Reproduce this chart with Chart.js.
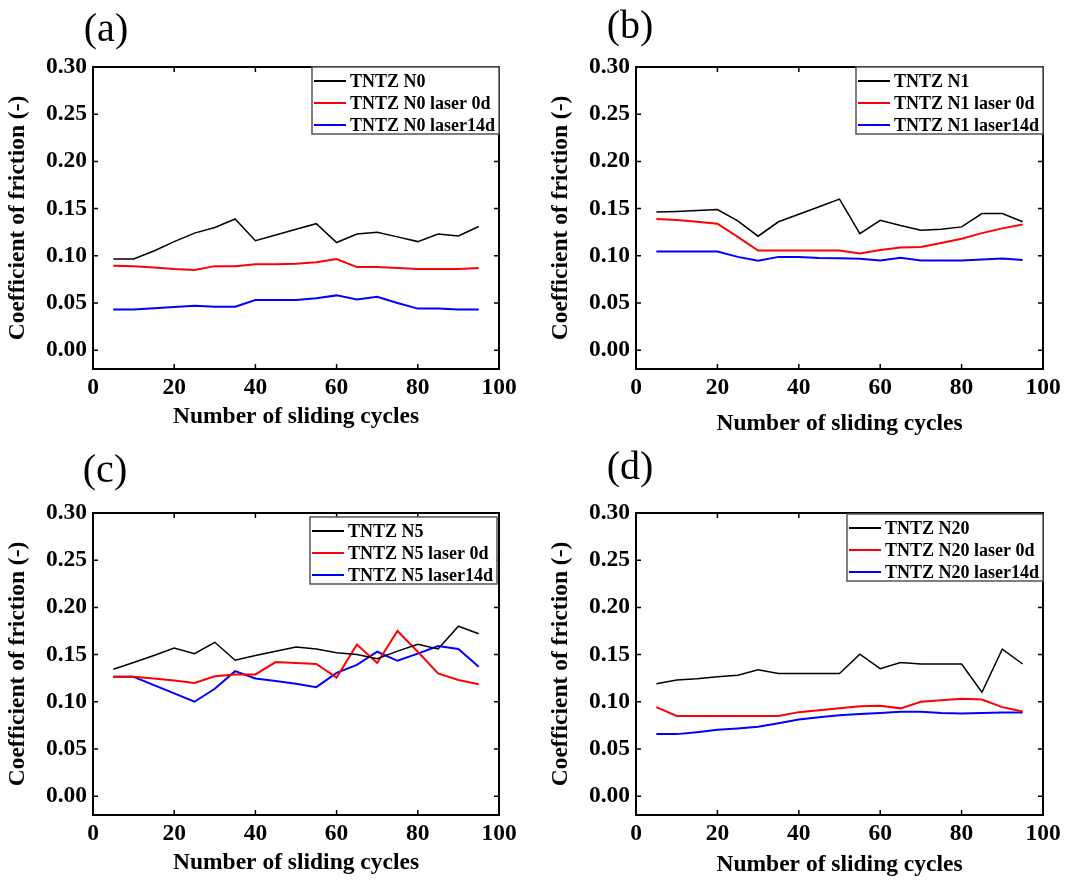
<!DOCTYPE html>
<html>
<head>
<meta charset="utf-8">
<script src="https://cdn.jsdelivr.net/npm/chart.js@4/dist/chart.umd.min.js"></script>
<style>
  body { margin: 0; background: #fff; }
  #wrap { position: relative; width: 1070px; height: 883px; }
  .panel { position: absolute; }
</style>
</head>
<body>
<div id="wrap"></div>
<script>
// sliding cycles (x) and tick values
const cycles = [5, 10, 15, 20, 25, 30, 35, 40, 45, 50, 55, 60, 65, 70, 75, 80, 85, 90, 95];
const xTicks = [0, 20, 40, 60, 80, 100];
const yTicks = [0, 0.05, 0.10, 0.15, 0.20, 0.25, 0.30];

// (a) TNTZ N0
const n0Base     = [0.0965, 0.0965, 0.105, 0.115, 0.124, 0.130, 0.139, 0.116, 0.122, 0.128, 0.134, 0.114, 0.123, 0.125, 0.120, 0.115, 0.123, 0.121, 0.131];
const n0Laser0d  = [0.0894, 0.089, 0.0876, 0.086, 0.085, 0.089, 0.089, 0.091, 0.091, 0.0915, 0.093, 0.0965, 0.088, 0.088, 0.087, 0.086, 0.086, 0.086, 0.087];
const n0Laser14d = [0.043, 0.043, 0.0445, 0.0456, 0.047, 0.046, 0.046, 0.053, 0.053, 0.053, 0.055, 0.058, 0.0537, 0.0565, 0.050, 0.044, 0.044, 0.043, 0.043];

// (b) TNTZ N1
const n1Base     = [0.1464, 0.147, 0.148, 0.149, 0.137, 0.1207, 0.136, 0.144, 0.152, 0.160, 0.1235, 0.1376, 0.132, 0.127, 0.128, 0.1306, 0.1447, 0.1447, 0.136];
const n1Laser0d  = [0.139, 0.138, 0.136, 0.134, 0.120, 0.1055, 0.1055, 0.1055, 0.1055, 0.1055, 0.1023, 0.106, 0.1087, 0.1094, 0.1136, 0.118, 0.124, 0.129, 0.133];
const n1Laser14d = [0.1044, 0.1044, 0.1044, 0.1044, 0.0988, 0.0946, 0.0988, 0.0988, 0.0977, 0.0974, 0.0967, 0.095, 0.098, 0.095, 0.095, 0.095, 0.096, 0.097, 0.0956];

// (c) TNTZ N5
const n5Base     = [0.1345, 0.1416, 0.149, 0.157, 0.151, 0.163, 0.144, 0.149, 0.1536, 0.158, 0.156, 0.152, 0.150, 0.1455, 0.1536, 0.161, 0.156, 0.180, 0.172];
const n5Laser0d  = [0.1264, 0.1264, 0.1246, 0.1225, 0.120, 0.127, 0.129, 0.129, 0.142, 0.141, 0.140, 0.1257, 0.1607, 0.141, 0.175, 0.153, 0.130, 0.123, 0.1186];
const n5Laser14d = [0.1264, 0.1264, 0.1176, 0.1088, 0.100, 0.1137, 0.1324, 0.1246, 0.122, 0.119, 0.1155, 0.1306, 0.139, 0.153, 0.1434, 0.151, 0.159, 0.156, 0.137];

// (d) TNTZ N20
const n20Base     = [0.119, 0.123, 0.1243, 0.1264, 0.128, 0.134, 0.130, 0.130, 0.130, 0.130, 0.1504, 0.135, 0.1416, 0.140, 0.140, 0.140, 0.110, 0.1557, 0.140];
const n20Laser0d  = [0.0943, 0.085, 0.085, 0.085, 0.085, 0.085, 0.085, 0.089, 0.091, 0.093, 0.0953, 0.0957, 0.093, 0.100, 0.1017, 0.1031, 0.1024, 0.0943, 0.0897];
const n20Laser14d = [0.0657, 0.0657, 0.0678, 0.0703, 0.0717, 0.0734, 0.0773, 0.0812, 0.0837, 0.0858, 0.0869, 0.088, 0.0893, 0.0893, 0.088, 0.0876, 0.088, 0.0886, 0.0886];

const xTitle = 'Number of sliding cycles';
const yTitle = 'Coefficient of friction (-)';
const FONT = '"Liberation Serif", "Times New Roman", serif';

// panel placement on the page (canvas rect, chart area, label spot)
const panels = [
  { tag: '(a)', name: 'TNTZ N0', series: [n0Base, n0Laser0d, n0Laser14d],
    canvas: [0, 0, 535, 441], area: [93, 67, 499, 369], titleGap: 48, tagPos: [106, 30], legendInset: [0, 0] },
  { tag: '(b)', name: 'TNTZ N1', series: [n1Base, n1Laser0d, n1Laser14d],
    canvas: [535, 0, 535, 441], area: [636, 67, 1043, 369], titleGap: 55, tagPos: [630, 27], legendInset: [0, 0] },
  { tag: '(c)', name: 'TNTZ N5', series: [n5Base, n5Laser0d, n5Laser14d],
    canvas: [0, 441, 535, 442], area: [93, 513, 499, 815], titleGap: 48, tagPos: [105, 471], legendInset: [2, 4] },
  { tag: '(d)', name: 'TNTZ N20', series: [n20Base, n20Laser0d, n20Laser14d],
    canvas: [535, 441, 535, 442], area: [636, 513, 1043, 815], titleGap: 50, tagPos: [630, 468], legendInset: [0, 1] }
];

const lineColors = ['#000000', '#ff0000', '#0000ff'];
const lineWidths = [1.5, 2, 2];

// frame, inward ticks, legend box and panel tag
const decorPlugin = {
  id: 'decor',
  afterDraw(chart) {
    const ctx = chart.ctx;
    const a = chart.chartArea;
    const p = chart.options.plugins.decor;
    const xs = chart.scales.x, ys = chart.scales.y;
    ctx.save();
    ctx.strokeStyle = '#000';
    ctx.lineWidth = 1.5;
    ctx.beginPath();
    xTicks.forEach(v => {
      const px = xs.getPixelForValue(v);
      ctx.moveTo(px, a.bottom); ctx.lineTo(px, a.bottom - 5);
      ctx.moveTo(px, a.top); ctx.lineTo(px, a.top + 5);
    });
    yTicks.forEach(v => {
      const py = ys.getPixelForValue(v);
      ctx.moveTo(a.left, py); ctx.lineTo(a.left + 5, py);
      ctx.moveTo(a.right, py); ctx.lineTo(a.right - 5, py);
    });
    ctx.stroke();
    ctx.lineWidth = 2;
    ctx.strokeRect(a.left, a.top, a.right - a.left, a.bottom - a.top);

    // legend
    ctx.font = 'bold 18px ' + FONT;
    const labels = chart.data.datasets.map(d => d.label);
    const tw = Math.max(...labels.map(l => ctx.measureText(l).width));
    const w = tw + 42, h = 67;
    const bx = a.right - p.inset[0] - w, by = a.top + p.inset[1];
    ctx.fillStyle = '#fff';
    ctx.fillRect(bx, by, w, h);
    ctx.strokeStyle = '#555';
    ctx.lineWidth = 1.5;
    ctx.strokeRect(bx, by, w, h);
    ctx.textBaseline = 'middle';
    ctx.textAlign = 'left';
    chart.data.datasets.forEach((d, i) => {
      const ry = by + 14 + i * 22;
      ctx.strokeStyle = d.borderColor;
      ctx.lineWidth = 2;
      ctx.beginPath();
      ctx.moveTo(bx + 2, ry); ctx.lineTo(bx + 34, ry);
      ctx.stroke();
      ctx.fillStyle = '#000';
      ctx.fillText(d.label, bx + 38, ry + 1);
    });

    // panel tag
    ctx.font = '40px ' + FONT;
    ctx.textAlign = 'center';
    ctx.fillStyle = '#000';
    ctx.fillText(p.tag, p.tagPos[0], p.tagPos[1]);
    ctx.restore();
  }
};

const wrap = document.getElementById('wrap');

panels.forEach(pn => {
  const [cx, cy, cw, ch] = pn.canvas;
  const [al, at, ar, ab] = pn.area;
  const div = document.createElement('div');
  div.className = 'panel';
  div.style.left = cx + 'px';
  div.style.top = cy + 'px';
  const canvas = document.createElement('canvas');
  canvas.width = cw;
  canvas.height = ch;
  div.appendChild(canvas);
  wrap.appendChild(div);

  const yAxisWidth = 93;
  const xAxisHeight = pn.titleGap + 14;
  const padLeft = al - cx - yAxisWidth;
  const padRight = cx + cw - ar;
  const padTop = at - cy;
  const padBottom = cy + ch - ab - xAxisHeight;
  const labelNames = [pn.name, pn.name + ' laser 0d', pn.name + ' laser14d'];

  new Chart(canvas, {
    type: 'line',
    data: {
      datasets: pn.series.map((vals, i) => ({
        label: labelNames[i],
        data: cycles.map((c, k) => ({ x: c, y: vals[k] })),
        borderColor: lineColors[i],
        backgroundColor: lineColors[i],
        borderWidth: lineWidths[i],
        pointRadius: 0,
        tension: 0,
        fill: false
      }))
    },
    options: {
      responsive: false,
      animation: false,
      layout: { padding: { left: padLeft, right: padRight, top: padTop, bottom: padBottom } },
      plugins: {
        legend: { display: false },
        tooltip: { enabled: false },
        decor: { tag: pn.tag, tagPos: [pn.tagPos[0] - cx, pn.tagPos[1] - cy], inset: pn.legendInset }
      },
      scales: {
        x: {
          type: 'linear',
          min: 0,
          max: 100,
          afterBuildTicks: s => { s.ticks = xTicks.map(v => ({ value: v })); },
          afterFit: s => { s.height = xAxisHeight; s.paddingLeft = 0; s.paddingRight = 0; },
          grid: { display: false, drawTicks: false },
          border: { display: false },
          ticks: { color: '#000', padding: 5, maxRotation: 0, font: { family: FONT, size: 23.5, weight: 'bold' } },
          title: { display: true, text: xTitle, color: '#000', padding: { top: 0, bottom: 0 },
                   font: { family: FONT, size: 23.5, weight: 'bold', lineHeight: 1.2 } }
        },
        y: {
          type: 'linear',
          min: -0.02,
          max: 0.30,
          afterBuildTicks: s => { s.ticks = yTicks.map(v => ({ value: v })); },
          afterFit: s => { s.width = yAxisWidth; s.paddingTop = 0; s.paddingBottom = 0; },
          grid: { display: false, drawTicks: false },
          border: { display: false },
          ticks: { color: '#000', padding: 6, callback: v => v.toFixed(2),
                   font: { family: FONT, size: 23.5, weight: 'bold' } },
          title: { display: true, text: yTitle, color: '#000', padding: { top: 4, bottom: 0 },
                   font: { family: FONT, size: 23.5, weight: 'bold', lineHeight: 1.2 } }
        }
      }
    },
    plugins: [decorPlugin]
  });
});
</script>
</body>
</html>
